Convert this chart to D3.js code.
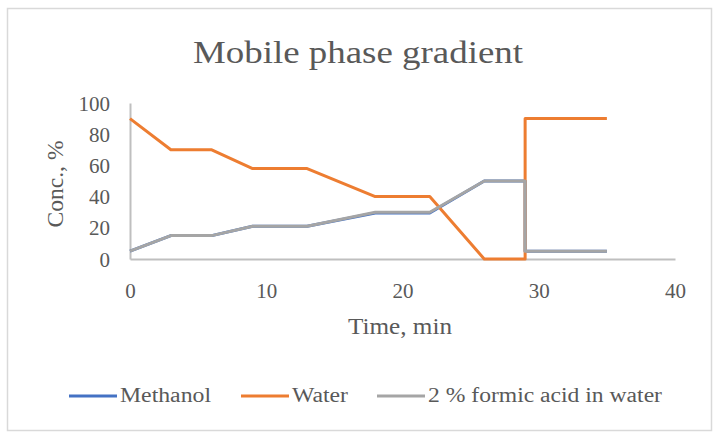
<!DOCTYPE html>
<html><head><meta charset="utf-8">
<script src="https://cdn.jsdelivr.net/npm/d3@7"></script>
<style>body{margin:0;background:#fff}svg{display:block}text{font-family:"Liberation Serif","DejaVu Serif",serif;fill:#595959}</style>
</head><body><svg id="c" width="720" height="439"></svg>
<script>
const time        = [0, 3, 6, 9, 13, 18, 22, 26, 29, 29, 35];
const methanol    = [5, 15, 15, 21, 21, 29.5, 29.5, 50, 50, 5, 5];
const water       = [90, 70, 70, 58, 58, 40, 40, 0, 0, 90, 90];
const formicAcid  = [5, 15, 15, 21, 21, 30, 30, 50, 50, 5, 5];
const seriesNames = ["Methanol", "Water", "2 % formic acid in water"];
const seriesColors = ["#4472C4", "#ED7D31", "#A5A5A5"];
const xTicks = [0, 10, 20, 30, 40];
const yTicks = [0, 20, 40, 60, 80, 100];

const svg = d3.select("#c");
svg.append("rect").attr("x",7.5).attr("y",8.5).attr("width",704).attr("height",422)
  .attr("fill","#fff").attr("stroke","#D9D9D9").attr("stroke-width",1.5);

const x = d3.scaleLinear().domain([0,40]).range([130,675]);
const y = d3.scaleLinear().domain([0,100]).range([259,103]);

// title
svg.append("text").attr("x",358).attr("y",63).attr("text-anchor","middle")
  .attr("font-size",32).attr("textLength",330).attr("lengthAdjust","spacingAndGlyphs")
  .text("Mobile phase gradient");

// axes
const xAxis = svg.append("g").attr("transform","translate(0,259)")
  .call(d3.axisBottom(x).tickValues(xTicks).tickSize(0).tickPadding(0));
xAxis.select(".domain").attr("stroke","#BFBFBF").attr("stroke-width",2);
xAxis.selectAll("text").attr("font-size",21).attr("y",39).attr("dy",0).attr("fill","#595959");

const yAxis = svg.append("g").attr("transform","translate(130,0)")
  .call(d3.axisLeft(y).tickValues(yTicks).tickSize(0).tickPadding(0));
yAxis.select(".domain").attr("stroke","#BFBFBF").attr("stroke-width",2);
yAxis.selectAll("text").attr("font-size",21).attr("x",-20).attr("dy","0.34em").attr("fill","#595959");
svg.selectAll(".tick text").attr("font-family",'"Liberation Serif","DejaVu Serif",serif');

// axis titles
svg.append("text").attr("x",400).attr("y",334).attr("text-anchor","middle")
  .attr("font-size",24).attr("textLength",104).attr("lengthAdjust","spacingAndGlyphs").text("Time, min");
svg.append("text").attr("transform","translate(63,184) rotate(-90)").attr("text-anchor","middle")
  .attr("font-size",24).attr("textLength",87).attr("lengthAdjust","spacingAndGlyphs").text("Conc., %");

// series (Excel order: later series on top)
const allSeries = [methanol, water, formicAcid];
const line = d3.line().x(d => x(d[0])).y(d => y(d[1]));
[0,1,2].forEach(i => {
  const pts = time.map((t,j) => [t, allSeries[i][j]]);
  svg.append("path").datum(pts).attr("d", line).attr("fill","none")
    .attr("stroke", seriesColors[i]).attr("stroke-width",3).attr("stroke-linejoin","round");
});

// legend
const legX = [69, 241, 377];
const legW = [91, 56, 234];
seriesNames.forEach((n,i) => {
  svg.append("line").attr("x1",legX[i]).attr("x2",legX[i]+48).attr("y1",396).attr("y2",396)
    .attr("stroke",seriesColors[i]).attr("stroke-width",3);
  svg.append("text").attr("x",legX[i]+51).attr("y",402).attr("font-size",20)
    .attr("textLength",legW[i]).attr("lengthAdjust","spacingAndGlyphs").text(n);
});
</script></body></html>
